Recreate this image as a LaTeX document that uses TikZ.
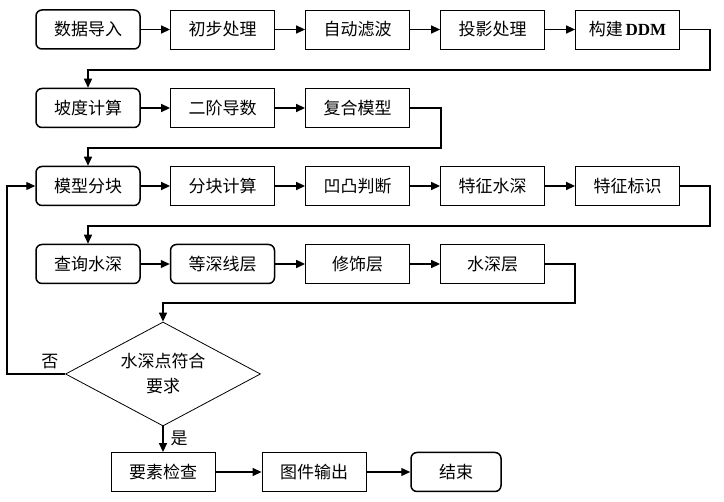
\documentclass[tikz,border=0pt]{standalone}
\usepackage{fontspec}
\setmainfont{Liberation Serif}
\newfontfamily\cjkfont{Noto Sans CJK SC}
\usetikzlibrary{arrows.meta,shapes.geometric,calc}
\tikzset{
    procbox/.style={draw,line width=0.8pt,minimum width=104pt,minimum height=39pt,inner sep=0pt},
    roundbox/.style={procbox,line width=1.5pt,rounded corners=6pt},
    decision/.style={diamond,draw,line width=0.8pt,minimum width=195pt,minimum height=104pt,shape aspect=1.875,inner sep=0pt,align=center,font=\cjkfont\fontsize{17}{25}\selectfont},
    arr/.style={-{Triangle[length=9pt,width=8pt]},line width=1.4pt},
    link/.style={line width=1.4pt},
}
\tikzstyle{every node}=[font=\cjkfont\fontsize{17}{20}\selectfont]

\begin{document}
\begin{tikzpicture}[x=1pt,y=-1pt]
        \useasboundingbox (0,0) rectangle (724,502);
        \node[roundbox] (import) at (88,29.5) {数据导入};
        \foreach \name/\txt/\x in {prep/初步处理/222.5, filter/自动滤波/357.5, proj/投影处理/492.5, ddm/{构建\,{\rmfamily\bfseries DDM}}/627.5}
            \node[procbox] (\name) at (\x,29.5) {\txt};

        \node[roundbox] (slope) at (88,108) {坡度计算};
        \node[procbox] (second) at (222.5,108) {二阶导数};
        \node[procbox] (model) at (357.5,108) {复合模型};

        \node[roundbox] (blocks) at (88,186) {模型分块};
        \foreach \name/\txt/\x in {blockcalc/分块计算/222.5, convex/凹凸判断/357.5, depth/特征水深/492.5, mark/特征标识/627.5}
            \node[procbox] (\name) at (\x,186) {\txt};

        \node[roundbox] (query) at (88,264) {查询水深};
        \node[roundbox] (contour) at (222.5,264) {等深线层};
        \node[procbox] (decor) at (357.5,264) {修饰层};
        \node[procbox] (soundings) at (492.5,264) {水深层};

        \node[decision] (judge) at (163,374) {水深点符合\\要求};

        \node[procbox] (check) at (163,472) {要素检查};
        \node[procbox] (output) at (314,472) {图件输出};
        \node[roundbox,minimum width=90pt] (finish) at (456,472) {结束};

        \foreach \a/\b in {import/prep, prep/filter, filter/proj, proj/ddm, slope/second, second/model,
                blocks/blockcalc, blockcalc/convex, convex/depth, depth/mark,
                query/contour, contour/decor, decor/soundings, check/output, output/finish}
            \draw[arr] (\a) -- (\b);

        \coordinate (turn1) at (710,70);
        \coordinate (turn2) at (441,148);
        \coordinate (turn3) at (710,226);
        \coordinate (turn4) at (575,303);
        \coordinate (back) at (7,374);
        \draw[arr] (ddm.east) -| (turn1) -| (slope.north);
        \draw[arr] (model.east) -| (turn2) -| (blocks.north);
        \draw[arr] (mark.east) -| (turn3) -| (query.north);
        \draw[arr] (soundings.east) -| (turn4) -| (judge.north);
        \draw[arr] (judge.west) -- (back) |- (blocks.west);
        \draw[arr] (judge.south) -- (check.north);
        \node (no) at (50,362) {否};
        \node (yes) at (179,438) {是};
    \end{tikzpicture}
\end{document}
